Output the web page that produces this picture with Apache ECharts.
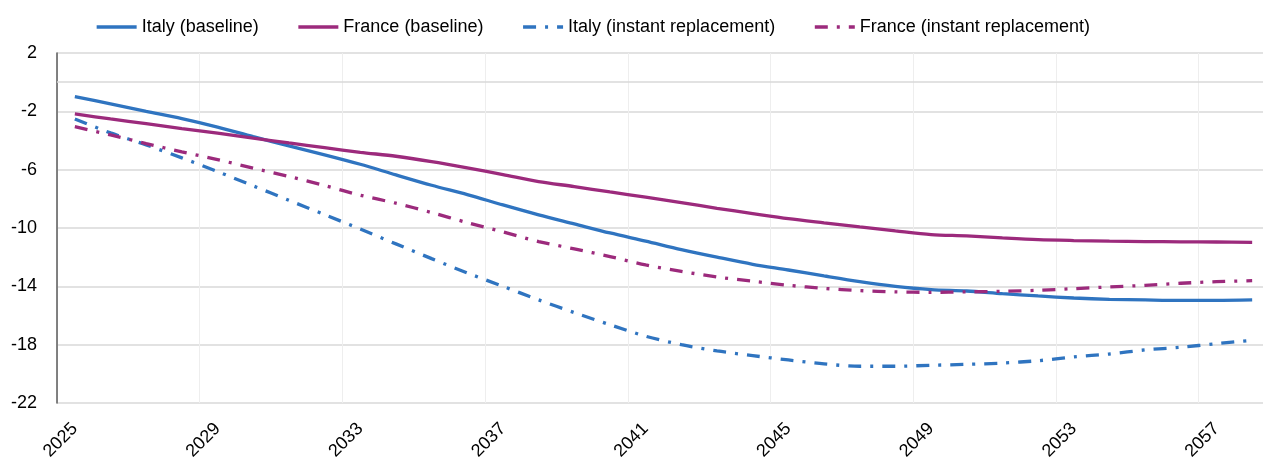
<!DOCTYPE html>
<html>
<head>
<meta charset="utf-8">
<script src="https://cdn.jsdelivr.net/npm/echarts@6/dist/echarts.min.js"></script>
<style>
html,body{margin:0;padding:0;background:#fff;}
#chart{width:1263px;height:459px;}
</style>
</head>
<body>
<div id="chart"></div>
<script>
var years = [];
for (var yr = 2025; yr <= 2058; yr++) years.push(String(yr));

var italyBaseline = [-0.99,-1.49,-2.0,-2.5,-3.08,-3.74,-4.37,-4.98,-5.63,-6.36,-7.07,-7.71,-8.42,-9.1,-9.72,-10.34,-10.9,-11.48,-12.0,-12.49,-12.88,-13.29,-13.68,-14.0,-14.22,-14.32,-14.5,-14.66,-14.8,-14.89,-14.93,-14.96,-14.96,-14.93];
var franceBaseline = [-2.18,-2.52,-2.85,-3.18,-3.5,-3.84,-4.17,-4.49,-4.81,-5.08,-5.45,-5.88,-6.34,-6.82,-7.16,-7.53,-7.88,-8.26,-8.65,-9.01,-9.36,-9.65,-9.93,-10.2,-10.45,-10.54,-10.68,-10.8,-10.86,-10.9,-10.93,-10.95,-10.96,-10.98];
var italyInstant = [-2.52,-3.48,-4.3,-5.19,-6.13,-7.11,-8.1,-9.08,-10.07,-11.09,-12.1,-13.08,-14.0,-14.93,-15.8,-16.63,-17.42,-18.0,-18.43,-18.75,-19.05,-19.32,-19.48,-19.48,-19.41,-19.35,-19.26,-19.1,-18.84,-18.64,-18.36,-18.18,-17.93,-17.7];
var franceInstant = [-3.05,-3.62,-4.21,-4.78,-5.31,-5.9,-6.47,-7.09,-7.75,-8.3,-8.94,-9.63,-10.27,-10.93,-11.43,-11.96,-12.53,-12.97,-13.36,-13.65,-13.93,-14.14,-14.29,-14.38,-14.41,-14.38,-14.34,-14.27,-14.16,-14.04,-13.93,-13.79,-13.68,-13.61];

var seriesNames = ['Italy (baseline)','France (baseline)','Italy (instant replacement)','France (instant replacement)'];
var BLUE = '#2f74c0', PURPLE = '#9c2a7c';
var FONT = "'Liberation Sans Narrow','Arial Narrow','Liberation Sans',Arial,sans-serif";
var DASHDOT = [13, 9, 3, 9];

function mk(name, data, color, dashed) {
  return {
    name: name, type: 'line', data: data, smooth: 0.3, showSymbol: false, symbol: 'none',
    lineStyle: { color: color, width: 3.3, type: dashed ? DASHDOT : 'solid', cap: 'butt' },
    itemStyle: { color: color },
    z: 3
  };
}

var series = [
  mk(seriesNames[0], italyBaseline, BLUE, false),
  mk(seriesNames[1], franceBaseline, PURPLE, false),
  mk(seriesNames[2], italyInstant, BLUE, true),
  mk(seriesNames[3], franceInstant, PURPLE, true)
];
series[0].markLine = {
  silent: true, symbol: 'none', label: { show: false },
  lineStyle: { color: '#d9d9d9', width: 1.5, type: 'solid' },
  data: [{ yAxis: 0 }], z: 1
};

var chart = echarts.init(document.getElementById('chart'), null, { renderer: 'canvas' });
chart.setOption({
  animation: false,
  backgroundColor: '#ffffff',
  textStyle: { fontFamily: FONT },
  legend: {
    left: 95, top: 18, padding: 0,
    itemWidth: 40, itemHeight: 14, itemGap: 38,
    itemStyle: { opacity: 0 },
    lineStyle: { width: 3.3 },
    textStyle: { fontFamily: FONT, fontSize: 18, color: '#000' },
    data: seriesNames
  },
  grid: { left: 57, top: 53, bottom: 56, width: 1213, containLabel: false, outerBoundsMode: 'none' },
  xAxis: {
    type: 'category', data: years, boundaryGap: true,
    axisLine: { show: false },
    axisTick: { show: false },
    axisLabel: { interval: 3, rotate: 45, margin: 23, fontFamily: FONT, fontSize: 18, color: '#000' },
    splitLine: { show: true, interval: 3, lineStyle: { color: '#eeeeee', width: 1 } }
  },
  yAxis: {
    type: 'value', min: -22, max: 2, interval: 4,
    axisLine: { show: true, lineStyle: { color: '#595959', width: 1.5 } },
    axisTick: { show: false },
    axisLabel: { margin: 20, fontFamily: FONT, fontSize: 18, color: '#000' },
    splitLine: { show: true, lineStyle: { color: '#d9d9d9', width: 1.5 } }
  },
  series: series
});
</script>
</body>
</html>
